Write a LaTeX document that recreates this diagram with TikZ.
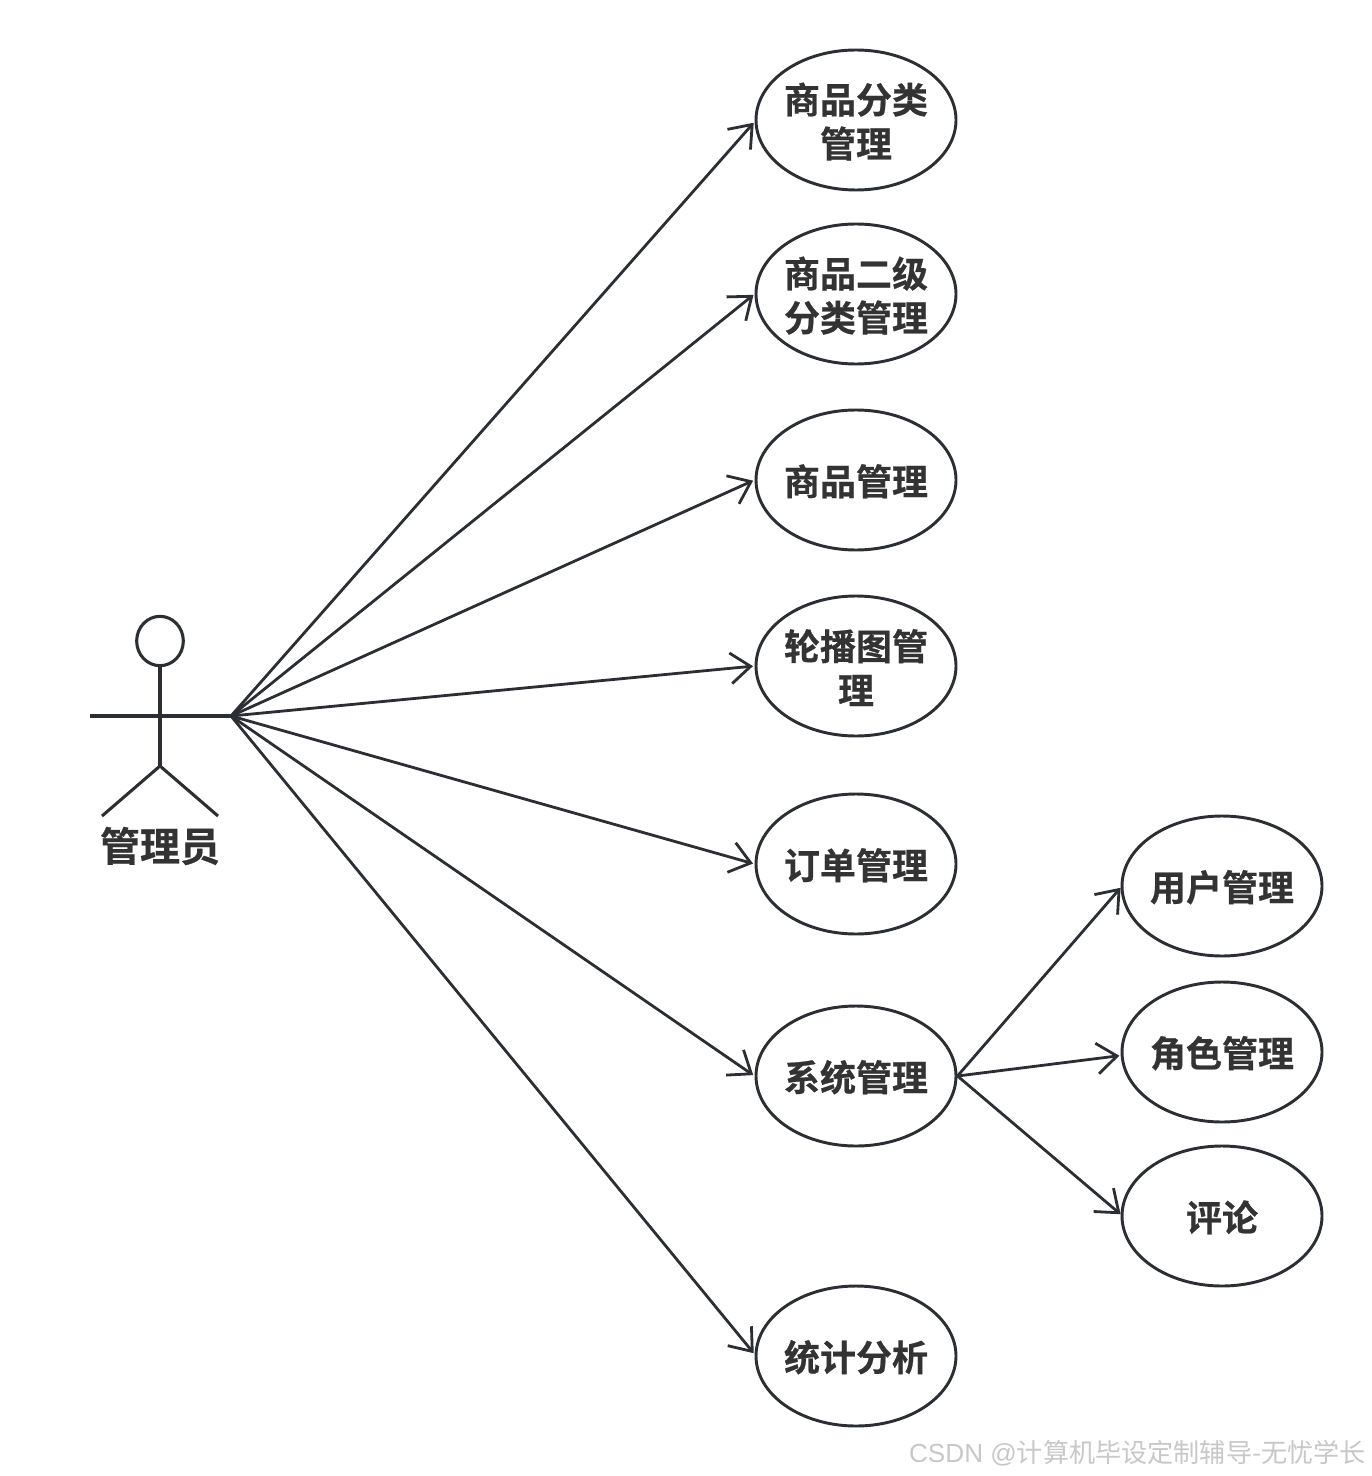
\documentclass[tikz,border=0pt]{standalone}
\usepackage{fontspec}
\setmainfont{Liberation Sans}
\newfontfamily\cjk{Noto Sans CJK SC}
\newfontfamily\cjkb[FakeBold=0.6]{Noto Sans CJK SC Bold}
\usetikzlibrary{shapes.geometric,arrows.meta}
\definecolor{ink}{HTML}{2B2F33}
\definecolor{txt}{HTML}{333333}
\definecolor{wm}{HTML}{C8C8C8}
\newcommand{\liftline}{\rule{0pt}{25.5pt}}
\tikzset{
  usecase/.style={draw=ink,line width=2.2pt,ellipse,inner xsep=-25pt,inner ysep=0pt,minimum width=150pt,minimum height=105pt,
    align=center,text=txt,font=\cjkb\fontsize{27pt}{33pt}\selectfont},
  stick/.style={draw=ink,line width=2.3pt},
  assoc/.style={draw=ink,line width=2.1pt,-{Straight Barb[length=15pt,width=23pt,line width=2.1pt]},shorten >=1pt},
  deep/.style={shorten >=1.2pt},
  actorlabel/.style={text=txt,font=\cjkb\fontsize{30pt}{36pt}\selectfont,inner sep=0pt}
}
\begin{document}
\begin{tikzpicture}[x=0.75pt,y=-0.75pt]
\useasboundingbox[fill=white] (0,0) rectangle (1371,1476);
% actor
\node[stick,ellipse,inner sep=0pt,minimum width=35pt,minimum height=37pt] (head) at (160,641) {};
\coordinate (hip) at (160,766);
\coordinate (lhand) at (90,716);
\coordinate (rhand) at (231,716);
\coordinate (lfoot) at (102,816);
\coordinate (rfoot) at (218,816);
\draw[stick] (head.south) -- (hip);
\draw[stick] (lhand) -- (rhand);
\draw[stick] (lfoot) -- (hip) -- (rfoot);
\node[actorlabel] (actor) at (160,846) {管理员};
% use cases
\node[usecase] (a) at (856,120) {\liftline 商品分类\\管理};
\node[usecase] (b) at (856,294) {\liftline 商品二级\\分类管理};
\node[usecase] (c) at (856,480) {\rule{0pt}{25pt}商品管理};
\node[usecase] (d) at (856,666) {\liftline 轮播图管\\理};
\node[usecase] (e) at (856,864) {\rule{0pt}{25pt}订单管理};
\node[usecase] (f) at (856,1076) {\rule{0pt}{25pt}系统管理};
\node[usecase] (g) at (856,1356) {\rule{0pt}{25pt}统计分析};
\node[usecase] (h) at (1222,886) {\rule{0pt}{25pt}用户管理};
\node[usecase] (i) at (1222,1052) {\rule{0pt}{25pt}角色管理};
\node[usecase] (j) at (1222,1216) {\rule{0pt}{25pt}评论};
% connectors
\draw[assoc] (rhand) -- (a.181);
\draw[assoc] (rhand) -- (b.180);
\draw[assoc,deep] (rhand) -- (c.180);
\draw[assoc,deep] (rhand) -- (d.180);
\draw[assoc,deep] (rhand) -- (e.west);
\draw[assoc,deep] (rhand) -- (f.west);
\draw[assoc] (rhand) -- (g.179);
\draw[assoc,shorten >=0pt] (f.east) -- (h.181);
\draw[assoc,shorten >=1pt] (f.east) -- (i.182);
\draw[assoc,shorten >=0pt] (f.east) -- (j.179);
% watermark
\node[anchor=east,inner sep=0pt,text=wm,font=\fontsize{19.6pt}{22pt}\selectfont] (wmark) at (1366,1453) {CSDN @{\cjk 计算机毕设定制辅导-无忧学长}};
\end{tikzpicture}
\end{document}
